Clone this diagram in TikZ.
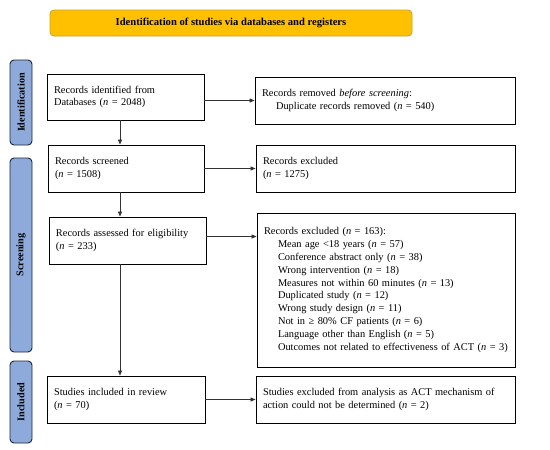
\documentclass[tikz,border=0pt]{standalone}
\usepackage{fontspec}
\setmainfont{Liberation Serif}
\usetikzlibrary{arrows.meta,calc}
\definecolor{banner}{HTML}{FFC000}
\definecolor{bannerdraw}{HTML}{C9A032}
\definecolor{side}{HTML}{8EAADB}
\definecolor{sidedraw}{HTML}{1F2636}
\tikzset{
  box/.style={draw=black, line width=0.9pt, rectangle, align=left, inner xsep=7pt, inner ysep=2pt,
    font=\fontsize{10.4}{12.8}\selectfont, anchor=center},
  sidelab/.style={draw=sidedraw, fill=side, line width=0.9pt, rounded corners=4pt, rotate=90,
    minimum height=22pt, font=\bfseries\fontsize{10.2}{12}\selectfont, inner sep=0pt},
  arr/.style={draw=black!80, line width=0.6pt, -{Triangle[length=5pt,width=4pt]}},
}
\begin{document}
\begin{tikzpicture}[x=1pt,y=-1pt]
\useasboundingbox (0,0) rectangle (550,450);
\fill[white] (0,0) rectangle (550,450);
% banner
\node[draw=bannerdraw, fill=banner, line width=0.8pt, rounded corners=4pt, minimum width=362pt, minimum height=26pt,
  font=\bfseries\fontsize{10.6}{12}\selectfont] (ban) at (231,23) {Identification of studies via databases and registers};
% side labels
\node[sidelab, minimum width=85pt] (sid) at (21,102.5) {Identification};
\node[sidelab, minimum width=194pt] (sscr) at (21,255) {Screening};
\node[sidelab, minimum width=82pt] (sinc) at (21,402) {Included};
% left boxes
\node[box, text width=143pt, minimum height=46pt] (b1) at (125.5,97) {Records identified from\\Databases (\textit{n} = 2048)};
\node[box, text width=142pt, minimum height=47pt] (scr) at (126,168.5) {Records screened\\(\textit{n} = 1508)};
\node[box, text width=143pt, minimum height=47pt] (ass) at (127.5,240.5) {Records assessed for eligibility\\(\textit{n} = 233)};
\node[box, text width=144pt, minimum height=47pt] (inc) at (126,399.5) {Studies included in review\\(\textit{n} = 70)};
% right boxes
\node[box, text width=246pt, minimum height=47pt] (rem) at (385,100.5) {Records removed \textit{before screening}:\\\hspace*{14pt}Duplicate records removed (\textit{n} = 540)};
\node[box, text width=245pt, minimum height=47pt] (ex1) at (385.5,168.5) {Records excluded\\(\textit{n} = 1275)};
\node[box, text width=244pt, minimum height=154pt] (ex2) at (386,290) {Records excluded (\textit{n} = 163):\\
\hspace*{14pt}Mean age <18 years (\textit{n} = 57)\\
\hspace*{14pt}Conference abstract only (\textit{n} = 38)\\
\hspace*{14pt}Wrong intervention (\textit{n} = 18)\\
\hspace*{14pt}Measures not within 60 minutes (\textit{n} = 13)\\
\hspace*{14pt}Duplicated study (\textit{n} = 12)\\
\hspace*{14pt}Wrong study design (\textit{n} = 11)\\
\hspace*{14pt}Not in ≥ 80\% CF patients (\textit{n} = 6)\\
\hspace*{14pt}Language other than English (\textit{n} = 5)\\
\hspace*{14pt}Outcomes not related to effectiveness of ACT (\textit{n} = 3)};
\node[box, text width=245pt, minimum height=47pt] (ex3) at (385.5,399.5) {Studies excluded from analysis as ACT mechanism of\\action could not be determined (\textit{n} = 2)};
% arrows
\coordinate (ax) at (120,0);
\draw[arr] (b1.south -| ax) -- (scr.north -| ax);
\draw[arr] (scr.south -| ax) -- (ass.north -| ax);
\draw[arr] (ass.south -| ax) -- (inc.north -| ax);
\draw[arr] (b1.east |- rem.west) -- (rem.west);
\draw[arr] (scr.east) -- (ex1.west);
\draw[arr] ([yshift=4pt]ass.east) -- ([yshift=4pt]ass.east -| ex2.west);
\draw[arr] (inc.east) -- (inc.east -| ex3.west);
\end{tikzpicture}
\end{document}
